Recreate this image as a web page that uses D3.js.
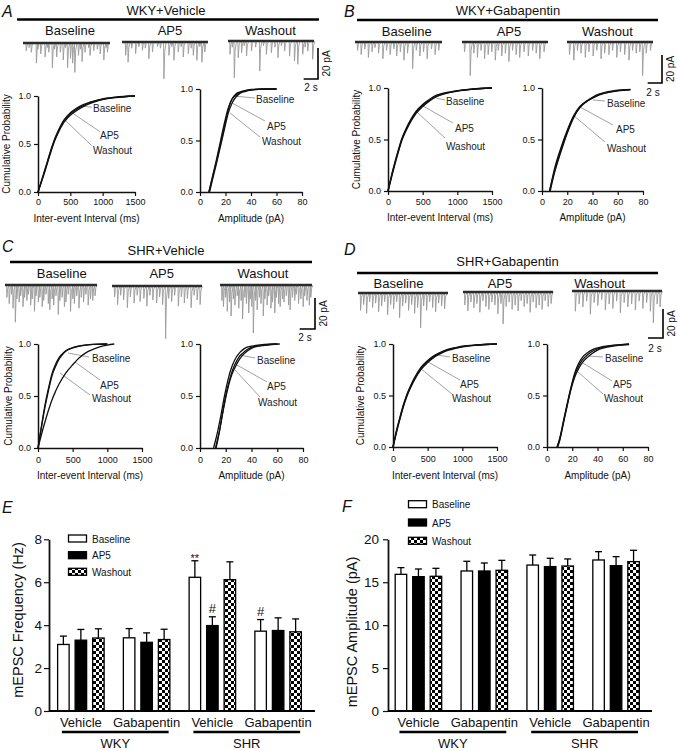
<!DOCTYPE html>
<html><head><meta charset="utf-8">
<script src="https://cdn.jsdelivr.net/npm/d3@7"></script>
<style>
body{margin:0;background:#fff;}
svg{display:block;font-family:"Liberation Sans",Arial,Helvetica,sans-serif;}
</style></head><body>
<svg id="fig" width="678" height="751"></svg>
<script>
// ================= DATA =================
const conditions = ["Baseline", "AP5", "Washout"];
const panelTitles = ["WKY+Vehicle", "WKY+Gabapentin", "SHR+Vehicle", "SHR+Gabapentin"];
const panelLetters = ["A", "B", "C", "D", "E", "F"];
const intervalTicks = [0, 500, 1000, 1500];
const amplitudeTicks = [0, 20, 40, 60, 80];
const probabilityTicks = [0, 0.5, 1];
const intervalAxisTitle = "Inter-event Interval (ms)";
const amplitudeAxisTitle = "Amplitude (pA)";
const cumulativeTitle = "Cumulative Probability";
const scaleBarCurrent = 20;   // pA
const scaleBarTime = 2;       // s
const traceDuration = 12;     // s

// mEPSC events in example traces: [time (s), amplitude (pA)]
const traceA_Baseline = [[0.4,5],[0.8,3],[1.1,6],[1.8,13],[2.0,4],[2.4,7],[3.0,9],[3.3,3],[3.5,6],[4.0,16],[4.3,4],[4.6,9],[5.1,6],[5.5,11],[5.8,3],[6.1,16],[6.5,10],[6.8,13],[7.1,19],[7.6,8],[7.9,4],[8.1,12],[8.5,6],[9.0,3],[9.2,8],[9.7,5],[10.2,4],[10.6,7],[11.1,11],[11.4,3],[11.6,6]];
const traceA_AP5 = [[0.46,8.6],[0.8,13],[1.3,4],[1.85,7.5],[2.3,3],[2.8,5.4],[3.2,4],[3.7,10.8],[4.2,6.5],[4.9,3],[5.3,4],[5.8,23.7],[6.5,8.6],[6.9,3],[7.2,11.8],[7.8,6.5],[8.2,3],[8.5,9.7],[9.2,7.5],[9.6,4],[9.9,8.6],[10.4,11.8],[10.8,3],[11.1,13],[11.5,6.5]];
const traceA_Washout = [[0.23,8.6],[0.55,4],[0.83,23.7],[1.38,10.8],[1.85,7.5],[2.2,3],[2.54,9.7],[3.23,6.5],[3.8,4],[4.38,19.4],[4.9,3],[5.31,8.6],[6.0,7.5],[6.5,4],[6.92,10.8],[7.4,3],[7.85,6.5],[8.54,9.7],[9.23,12.9],[9.69,15],[10.38,8.6],[10.7,4],[11.08,6.5],[11.77,11.8]];
const traceB_Baseline = [[0.3,6],[0.8,9],[1.3,5],[1.8,11],[2.3,7],[2.7,4],[3.2,8],[3.8,12],[4.3,6],[4.8,9],[5.3,5],[5.7,10],[6.2,7],[6.7,13],[7.2,8],[7.9,19],[8.4,6],[8.9,10],[9.4,7],[9.9,12],[10.5,5],[11.0,9],[11.5,6]];
const traceB_AP5 = [[0.3,7],[1.1,24],[1.6,8],[2.1,11],[2.6,6],[3.1,12],[3.6,9],[4.1,7],[4.6,13],[5.0,6],[5.5,10],[6.0,8],[6.5,14],[7.0,6],[7.5,9],[8.0,11],[8.6,7],[9.2,10],[9.8,6],[10.3,8],[10.8,12],[11.4,7]];
const traceB_Washout = [[0.3,9],[0.9,13],[1.4,6],[1.9,8],[2.5,11],[3.0,7],[3.6,10],[4.1,6],[4.7,12],[5.2,8],[5.8,9],[6.3,6],[6.9,11],[7.4,7],[8.0,9],[8.6,13],[9.1,6],[9.6,8],[10.1,7],[10.5,24],[11.0,8],[11.6,6]];
const traceC_Baseline = [[0.2,8],[0.5,12],[0.8,6],[1.0,15],[1.3,24],[1.5,9],[1.8,11],[2.0,7],[2.3,14],[2.5,8],[2.8,10],[3.0,6],[3.3,13],[3.5,9],[3.8,17],[4.0,7],[4.3,11],[4.5,8],[4.8,14],[5.0,10],[5.3,6],[5.6,12],[5.8,16],[6.1,9],[6.3,13],[6.6,7],[6.9,19],[7.1,10],[7.4,8],[7.7,14],[7.9,11],[8.2,6],[8.5,17],[8.8,9],[9.0,12],[9.3,7],[9.6,15],[9.9,8],[10.2,11],[10.5,6],[10.8,13],[11.1,9],[11.4,10],[11.7,7]];
const traceC_AP5 = [[0.3,7],[0.7,12],[1.1,6],[1.5,9],[2.0,14],[2.4,7],[2.9,11],[3.3,6],[3.7,10],[4.2,8],[4.6,13],[5.0,6],[5.4,9],[5.9,11],[6.3,7],[6.7,12],[7.1,34],[7.5,8],[7.9,10],[8.3,6],[8.8,13],[9.2,7],[9.6,11],[10.0,8],[10.5,14],[10.9,6],[11.3,9],[11.7,12]];
const traceC_Washout = [[0.2,10],[0.4,14],[0.7,8],[0.9,17],[1.2,11],[1.4,20],[1.7,9],[1.9,13],[2.2,7],[2.4,15],[2.7,10],[2.9,22],[3.2,8],[3.4,12],[3.7,18],[3.9,9],[4.1,14],[4.3,31],[4.6,10],[4.8,16],[5.1,8],[5.3,12],[5.6,20],[5.8,9],[6.1,13],[6.3,7],[6.6,15],[6.8,11],[7.1,18],[7.3,8],[7.6,12],[7.8,14],[8.1,9],[8.3,11],[8.6,7],[8.9,13],[9.1,16],[9.4,8],[9.7,10],[9.9,6],[10.2,12],[10.5,9],[10.8,14],[11.0,7],[11.3,10],[11.6,13],[11.8,8]];
const traceD_Baseline = [[0.3,12],[0.7,8],[1.1,14],[1.5,6],[1.9,10],[2.3,7],[2.7,13],[3.1,9],[3.5,6],[3.9,15],[4.3,8],[4.7,11],[5.1,6],[5.5,17],[5.9,9],[6.3,7],[6.7,12],[7.1,8],[7.5,14],[7.9,10],[8.3,24],[8.7,9],[9.1,12],[9.5,6],[9.9,10],[10.3,13],[10.7,7],[11.1,9],[11.5,11]];
const traceD_AP5 = [[0.2,9],[0.6,13],[1.0,7],[1.4,11],[1.8,8],[2.2,14],[2.6,6],[3.0,10],[3.4,12],[3.8,7],[4.2,9],[4.6,15],[5.0,8],[5.3,22],[5.7,10],[6.1,7],[6.5,12],[6.9,9],[7.3,13],[7.7,6],[8.1,10],[8.5,8],[8.9,14],[9.3,7],[9.7,11],[10.1,9],[10.5,12],[10.9,6],[11.3,10],[11.7,8]];
const traceD_Washout = [[0.4,14],[0.9,9],[1.4,11],[1.9,7],[2.4,16],[2.9,8],[3.4,10],[3.9,6],[4.4,13],[4.9,9],[5.4,12],[5.9,7],[6.4,15],[6.9,8],[7.4,11],[7.9,9],[8.4,13],[8.9,7],[9.4,12],[9.9,8],[10.4,14],[10.8,22],[11.3,9],[11.7,11]];

// cumulative distributions: [x, cumulative probability]
const A_interval_Baseline = [[0,0],[50,0.1],[100,0.21],[150,0.32],[200,0.43],[250,0.53],[300,0.61],[400,0.74],[500,0.815],[600,0.865],[700,0.9],[800,0.93],[900,0.95],[1000,0.967],[1200,0.986],[1500,1]];
const A_interval_AP5 = [[0,0],[50,0.1],[100,0.2],[150,0.31],[200,0.42],[250,0.52],[300,0.6],[400,0.725],[500,0.8],[600,0.85],[700,0.89],[800,0.92],[900,0.945],[1000,0.963],[1200,0.984],[1500,1]];
const A_interval_Washout = [[0,0],[50,0.11],[100,0.22],[150,0.33],[200,0.44],[250,0.54],[300,0.62],[400,0.75],[500,0.825],[600,0.875],[700,0.91],[800,0.935],[900,0.955],[1000,0.97],[1200,0.988],[1500,1]];
const A_amplitude_Baseline = [[7,0],[10,0.15],[13,0.3],[16,0.46],[19,0.63],[22,0.79],[25,0.9],[28,0.95],[31,0.97],[35,0.985],[40,0.995],[50,1],[60,1]];
const A_amplitude_AP5 = [[7.5,0],[10,0.13],[13,0.28],[16,0.44],[19,0.6],[22,0.76],[25,0.86],[28,0.92],[31,0.955],[35,0.975],[40,0.99],[50,0.998],[60,1]];
const A_amplitude_Washout = [[7,0],[10,0.16],[13,0.32],[16,0.49],[19,0.66],[22,0.81],[25,0.9],[28,0.94],[31,0.965],[35,0.98],[40,0.992],[50,1],[60,1]];
const B_interval_Baseline = [[0,0],[50,0.14],[100,0.27],[150,0.39],[200,0.5],[250,0.58],[300,0.65],[400,0.76],[500,0.83],[600,0.88],[700,0.92],[800,0.945],[900,0.96],[1000,0.972],[1200,0.988],[1500,1]];
const B_interval_AP5 = [[0,0],[50,0.13],[100,0.26],[150,0.38],[200,0.49],[250,0.57],[300,0.64],[400,0.75],[500,0.82],[600,0.875],[700,0.915],[800,0.94],[900,0.957],[1000,0.97],[1200,0.987],[1500,1]];
const B_interval_Washout = [[0,0],[50,0.15],[100,0.28],[150,0.4],[200,0.51],[250,0.59],[300,0.66],[400,0.77],[500,0.84],[600,0.89],[700,0.93],[800,0.95],[900,0.963],[1000,0.975],[1200,0.99],[1500,1]];
const B_amplitude_Baseline = [[6,0],[10,0.22],[15,0.42],[20,0.59],[25,0.73],[30,0.82],[35,0.87],[40,0.905],[45,0.935],[50,0.952],[55,0.965],[60,0.975],[70,0.985]];
const B_amplitude_AP5 = [[6.5,0],[10,0.18],[15,0.38],[20,0.56],[25,0.71],[30,0.81],[35,0.865],[40,0.9],[45,0.93],[50,0.95],[55,0.963],[60,0.973],[70,0.983]];
const B_amplitude_Washout = [[6,0],[10,0.2],[15,0.4],[20,0.575],[25,0.72],[30,0.815],[35,0.87],[40,0.91],[45,0.94],[50,0.958],[55,0.97],[60,0.978],[70,0.986]];
const C_interval_Baseline = [[0,0],[50,0.21],[100,0.41],[150,0.57],[200,0.71],[250,0.8],[300,0.865],[350,0.905],[400,0.935],[500,0.965],[600,0.982],[700,0.991],[800,0.996],[1000,1]];
const C_interval_AP5 = [[0,0],[50,0.13],[100,0.25],[150,0.36],[200,0.46],[250,0.54],[300,0.61],[400,0.72],[500,0.8],[600,0.87],[700,0.92],[800,0.95],[900,0.975],[1000,0.99],[1100,1]];
const C_interval_Washout = [[0,0],[50,0.2],[100,0.39],[150,0.55],[200,0.69],[250,0.78],[300,0.85],[350,0.895],[400,0.93],[500,0.962],[600,0.98],[700,0.99],[800,0.996],[1000,1]];
const C_amplitude_Baseline = [[10.5,0],[13,0.12],[16,0.3],[19,0.5],[22,0.67],[25,0.79],[28,0.87],[31,0.92],[35,0.96],[40,0.98],[50,0.995],[60,1]];
const C_amplitude_AP5 = [[12.5,0],[15,0.15],[18,0.37],[21,0.56],[24,0.7],[27,0.8],[30,0.87],[33,0.91],[37,0.95],[42,0.975],[50,0.99],[60,1]];
const C_amplitude_Washout = [[12,0],[15,0.16],[18,0.36],[21,0.54],[24,0.68],[27,0.77],[30,0.84],[33,0.89],[37,0.935],[42,0.97],[50,0.988],[62,1]];
const D_interval_Baseline = [[0,0],[50,0.15],[100,0.28],[150,0.4],[200,0.5],[250,0.58],[300,0.65],[400,0.76],[500,0.83],[600,0.885],[700,0.92],[800,0.945],[900,0.962],[1000,0.975],[1200,0.99],[1500,1]];
const D_interval_AP5 = [[0,0],[50,0.14],[100,0.27],[150,0.39],[200,0.49],[250,0.57],[300,0.64],[400,0.75],[500,0.82],[600,0.875],[700,0.912],[800,0.94],[900,0.958],[1000,0.972],[1200,0.988],[1500,1]];
const D_interval_Washout = [[0,0],[50,0.16],[100,0.29],[150,0.41],[200,0.51],[250,0.59],[300,0.66],[400,0.77],[500,0.84],[600,0.89],[700,0.925],[800,0.95],[900,0.965],[1000,0.978],[1200,0.991],[1500,1]];
const D_amplitude_Baseline = [[8,0],[10,0.08],[13,0.25],[16,0.42],[19,0.58],[22,0.72],[25,0.81],[28,0.87],[32,0.915],[36,0.945],[40,0.962],[50,0.985],[60,0.995],[65,1]];
const D_amplitude_AP5 = [[8.5,0],[10,0.06],[13,0.23],[16,0.4],[19,0.56],[22,0.68],[25,0.76],[28,0.82],[32,0.87],[36,0.91],[40,0.94],[50,0.975],[60,0.99],[65,0.995]];
const D_amplitude_Washout = [[8,0],[10,0.07],[13,0.24],[16,0.41],[19,0.57],[22,0.7],[25,0.785],[28,0.845],[32,0.895],[36,0.93],[40,0.952],[50,0.98],[60,0.993],[65,0.998]];

// bar charts (E, F)
const groupLabels = ["Vehicle", "Gabapentin", "Vehicle", "Gabapentin"];
const strainLabels = ["WKY", "SHR"];
const freqTicks = [0, 2, 4, 6, 8];
const ampBarTicks = [0, 5, 10, 15, 20];
const freqAxisTitle = "mEPSC Frequency (Hz)";
const ampBarAxisTitle = "mEPSC Amplitude (pA)";
const freqBaseline = [3.1, 3.41, 6.23, 3.72];
const freqBaselineSEM = [0.39, 0.43, 0.77, 0.54];
const freqAP5 = [3.3, 3.2, 3.98, 3.75];
const freqAP5SEM = [0.5, 0.44, 0.41, 0.59];
const freqWashout = [3.4, 3.33, 6.12, 3.69];
const freqWashoutSEM = [0.43, 0.48, 0.83, 0.6];
const ampBaseline = [15.92, 16.31, 17.0, 17.59];
const ampBaselineSEM = [0.78, 1.13, 1.17, 0.97];
const ampAP5 = [15.65, 16.31, 16.82, 16.93];
const ampAP5SEM = [0.89, 0.93, 0.97, 1.05];
const ampWashout = [15.69, 16.39, 16.89, 17.4];
const ampWashoutSEM = [0.93, 1.16, 0.82, 1.32];
const freqMarkGroups = [2, 2, 3];
const freqMarkSeries = [0, 1, 0];
const freqMarkText = ["**", "#", "#"];

// ================= DRAWING =================
const svg = d3.select("#fig");
const ink = "#111";

const defs = svg.append("defs");
const pat = defs.append("pattern").attr("id", "checker").attr("patternUnits", "userSpaceOnUse")
  .attr("width", 6).attr("height", 6);
pat.append("rect").attr("width", 6).attr("height", 6).attr("fill", "#fff");
pat.append("rect").attr("width", 3).attr("height", 3).attr("fill", "#000");
pat.append("rect").attr("x", 3).attr("y", 3).attr("width", 3).attr("height", 3).attr("fill", "#000");

function letter(txt, x, y) {
  svg.append("text").attr("x", x).attr("y", y).attr("font-size", 16).attr("font-style", "italic")
    .attr("fill", ink).text(txt);
}

const traceSets = [
  [traceA_Baseline, traceA_AP5, traceA_Washout],
  [traceB_Baseline, traceB_AP5, traceB_Washout],
  [traceC_Baseline, traceC_AP5, traceC_Washout],
  [traceD_Baseline, traceD_AP5, traceD_Washout]
];
const cdfSets = [
  [[A_interval_Baseline, A_interval_AP5, A_interval_Washout], [A_amplitude_Baseline, A_amplitude_AP5, A_amplitude_Washout]],
  [[B_interval_Baseline, B_interval_AP5, B_interval_Washout], [B_amplitude_Baseline, B_amplitude_AP5, B_amplitude_Washout]],
  [[C_interval_Baseline, C_interval_AP5, C_interval_Washout], [C_amplitude_Baseline, C_amplitude_AP5, C_amplitude_Washout]],
  [[D_interval_Baseline, D_interval_AP5, D_interval_Washout], [D_amplitude_Baseline, D_amplitude_AP5, D_amplitude_Washout]]
];

// layout for A-D
const layouts = [
  { letter: [2, 17], headX: 166, headY: 14.5, rule: [17, 319, 19.5], subX: [70, 170, 270.5], subY: 35,
    traces: [[23, 110, 43], [122, 208, 42], [228, 314, 41]], bar: [318, 48, 79], pA: [329.5, 63.5], s: [311, 91],
    left: { x0: 38, x1: 135, y0: 96, y1: 192, tx: 9.5,
      lab: [[43.7,10,53.7,11.3,55,15.5],[34.7,17.3,62,35.7,62,42.5],[27,24,53.7,49.7,55,57.5]] },
    right: { x0: 200, x1: 302, y0: 89, y1: 192,
      lab: [[33,7,55,9,56,13.5],[32,14,65,32,67,40.5],[30,24,60,48,62,55.5]] },
    tickPad: 3, axTitleY: 221.5 },
  { letter: [344, 17], headX: 508, headY: 14.5, rule: [357, 658, 20], subX: [406.7, 509, 607.5], subY: 35.5,
    traces: [[355, 442, 42], [462, 548, 42], [567, 653, 42]], bar: [662, 55, 83], pA: [673.5, 69], s: [653, 95.5],
    left: { x0: 388, x1: 492, y0: 88, y1: 191, tx: 359.5,
      lab: [[48.7,10.3,57,12,58,16.5],[35,18,65,35,67,43.5],[29,24,57,50,58,61.5]] },
    right: { x0: 542, x1: 643, y0: 88, y1: 191,
      lab: [[51,12,63,13,65,18.5],[38,19,71,37,74,44.5],[31,27,63,54,65,63.5]] },
    tickPad: 3.5, axTitleY: 220.5 },
  { letter: [2, 252], headX: 166, headY: 254.5, rule: [10, 312, 262], subX: [61.7, 161.7, 263], subY: 277.5,
    traces: [[5, 97, 285], [112, 202, 286], [220, 312, 285]], bar: [315, 298, 329], pA: [327, 313.5], s: [305, 341],
    left: { x0: 38, x1: 142, y0: 344, y1: 448, tx: 11.5,
      lab: [[30,9,51,13,54,17.5],[37,18,62,36,62,44.5],[22,29,52,51,54,57.5]] },
    right: { x0: 200, x1: 303, y0: 344, y1: 448,
      lab: [[40,11,55,14,57,19.5],[37,21,67,38,67,45.5],[35,26,60,53,58,61.5]] },
    tickPad: 5, axTitleY: 479 },
  { letter: [344, 255], headX: 507.5, headY: 266, rule: [357, 658, 273], subX: [398.5, 500, 599.7], subY: 287.5,
    traces: [[358, 448, 293], [463, 553, 292], [572, 662, 291]], bar: [663, 309, 338], pA: [674.5, 323.5], s: [655, 351.5],
    left: { x0: 393, x1: 497, y0: 344, y1: 447, tx: 364,
      lab: [[44,11,57,13,59,17.5],[35,18,67,36,67,43.5],[27,24,59,50,59,57.5]] },
    right: { x0: 547, x1: 648, y0: 344, y1: 447,
      lab: [[41,12,56,13,58,17.5],[36,19,65,37,66,43.5],[31,28,56,50,57,57.5]] },
    tickPad: 5, axTitleY: 478.5 }
];

function styleAxis(g, fs) {
  g.select(".domain").attr("stroke", ink).attr("stroke-width", 1.5);
  g.selectAll(".tick line").attr("stroke", ink).attr("stroke-width", 1.2);
  g.selectAll(".tick text").attr("font-size", fs).attr("fill", ink)
    .attr("font-family", '"Liberation Sans", Arial, Helvetica, sans-serif');
}

function drawCDF(cfg, curves, xMax, xTicks, xTitle, showYTitle, tickPad, titleY) {
  const g = svg.append("g");
  const x = d3.scaleLinear().domain([0, xMax]).range([cfg.x0, cfg.x1]);
  const y = d3.scaleLinear().domain([0, 1]).range([cfg.y1, cfg.y0]);
  const line = d3.line().x(d => x(d[0])).y(d => y(d[1])).curve(d3.curveMonotoneX);
  conditions.forEach((c, i) => {
    const L = cfg.lab[i];
    g.append("line").attr("x1", cfg.x0 + L[0]).attr("y1", cfg.y0 + L[1])
      .attr("x2", cfg.x0 + L[2]).attr("y2", cfg.y0 + L[3])
      .attr("stroke", "#8a8a8a").attr("stroke-width", 0.8);
    g.append("text").attr("x", cfg.x0 + L[4]).attr("y", cfg.y0 + L[5])
      .attr("font-size", 10).attr("fill", "#222").text(c);
  });
  curves.forEach(cv => {
    g.append("path").datum(cv).attr("d", line).attr("fill", "none")
      .attr("stroke", ink).attr("stroke-width", 1.3);
  });
  const ax = g.append("g").attr("transform", `translate(0,${cfg.y1})`)
    .call(d3.axisBottom(x).tickValues(xTicks).tickFormat(d3.format("d")).tickSize(4).tickSizeOuter(0).tickPadding(tickPad));
  styleAxis(ax, 9);
  const ay = g.append("g").attr("transform", `translate(${cfg.x0},0)`)
    .call(d3.axisLeft(y).tickValues(probabilityTicks).tickFormat(d3.format(".1f")).tickSize(4).tickSizeOuter(0).tickPadding(3));
  styleAxis(ay, 9);
  g.append("text").attr("x", (cfg.x0 + cfg.x1) / 2).attr("y", titleY).attr("text-anchor", "middle")
    .attr("font-size", 10).attr("fill", ink).text(xTitle);
  if (showYTitle) {
    g.append("text").attr("transform", `translate(${cfg.tx},${(cfg.y0 + cfg.y1) / 2}) rotate(-90)`)
      .attr("text-anchor", "middle").attr("font-size", 10).attr("fill", ink).text(cumulativeTitle);
  }
}

layouts.forEach((L, p) => {
  letter(panelLetters[p], L.letter[0], L.letter[1]);
  svg.append("text").attr("x", L.headX).attr("y", L.headY).attr("text-anchor", "middle")
    .attr("font-size", 13).attr("fill", ink).text(panelTitles[p]);
  svg.append("line").attr("x1", L.rule[0]).attr("x2", L.rule[1]).attr("y1", L.rule[2]).attr("y2", L.rule[2])
    .attr("stroke", "#000").attr("stroke-width", 2.6);
  const amp = d3.scaleLinear().domain([0, scaleBarCurrent]).range([0, L.bar[2] - L.bar[1]]);
  conditions.forEach((c, i) => {
    svg.append("text").attr("x", L.subX[i]).attr("y", L.subY).attr("text-anchor", "middle")
      .attr("font-size", 13).attr("fill", ink).text(c);
    const T = L.traces[i];
    const xt = d3.scaleLinear().domain([0, traceDuration]).range([T[0], T[1]]);
    const tg = svg.append("g");
    tg.selectAll("path").data(traceSets[p][i]).join("path")
      .attr("d", d => {
        const x0 = xt(d[0]), b = T[2], a = amp(d[1]);
        return `M${x0},${b}L${x0 + 0.35},${b + a}L${x0 + 1.2},${b + a * 0.25}L${x0 + 2.6},${b}`;
      })
      .attr("fill", "none").attr("stroke", "#9a9a9a").attr("stroke-width", 0.9);
    tg.append("line").attr("x1", T[0]).attr("x2", T[1]).attr("y1", T[2]).attr("y2", T[2])
      .attr("stroke", "#2b2b2b").attr("stroke-width", 2.4);
    if (i === 2) {
      const hx = xt(scaleBarTime) - xt(0);
      svg.append("path").attr("d", `M${L.bar[0]},${L.bar[1]}V${L.bar[2]}H${L.bar[0] - hx}`)
        .attr("fill", "none").attr("stroke", "#000").attr("stroke-width", 1.6);
    }
  });
  svg.append("text").attr("transform", `translate(${L.pA[0]},${L.pA[1]}) rotate(-90)`)
    .attr("text-anchor", "middle").attr("font-size", 10).attr("fill", ink).text(scaleBarCurrent + " pA");
  svg.append("text").attr("x", L.s[0]).attr("y", L.s[1]).attr("text-anchor", "middle")
    .attr("font-size", 10).attr("fill", ink).text(scaleBarTime + " s");

  drawCDF(L.left, cdfSets[p][0], 1500, intervalTicks, intervalAxisTitle, true, L.tickPad, L.axTitleY);
  drawCDF(L.right, cdfSets[p][1], 80, amplitudeTicks, amplitudeAxisTitle, false, L.tickPad, L.axTitleY);
});

// ---------- bar charts ----------
const barFills = ["#fff", "#000", "url(#checker)"];
function drawBars(cfg) {
  const g = svg.append("g");
  letter(cfg.letter, cfg.lx, cfg.ly);
  const y = d3.scaleLinear().domain([0, cfg.max]).range([711, 539.3]);
  const xb = d3.scaleBand().domain(d3.range(groupLabels.length)).range(cfg.band);
  const step = 17.5, bw = 11.5;
  cfg.series.forEach((vals, s) => {
    vals.forEach((v, gi) => {
      const cx = xb(gi) + xb.bandwidth() / 2 + (s - 1) * step;
      const top = y(v), et = y(v + cfg.sems[s][gi]);
      g.append("line").attr("x1", cx).attr("x2", cx).attr("y1", top).attr("y2", et)
        .attr("stroke", "#000").attr("stroke-width", 1.3);
      g.append("line").attr("x1", cx - 3.5).attr("x2", cx + 3.5).attr("y1", et).attr("y2", et)
        .attr("stroke", "#000").attr("stroke-width", 1.3);
      g.append("rect").attr("x", cx - bw / 2).attr("y", top).attr("width", bw).attr("height", y(0) - top)
        .attr("fill", barFills[s]).attr("stroke", "#000").attr("stroke-width", 1.3);
    });
  });
  if (cfg.marks) {
    cfg.marks.groups.forEach((gi, k) => {
      const s = cfg.marks.series[k];
      const cx = xb(gi) + xb.bandwidth() / 2 + (s - 1) * step;
      const et = y(cfg.series[s][gi] + cfg.sems[s][gi]);
      const isStar = cfg.marks.text[k] === "**";
      g.append("text").attr("x", cx).attr("y", isStar ? et + 1 : et - 4).attr("text-anchor", "middle")
        .attr("font-size", isStar ? 11 : 13).attr("fill", ink).text(cfg.marks.text[k]);
    });
  }
  const ay = g.append("g").attr("transform", `translate(${cfg.axisX},0)`)
    .call(d3.axisLeft(y).tickValues(cfg.ticks).tickSize(5).tickSizeOuter(0).tickPadding(cfg.tickPad));
  styleAxis(ay, 13.5);
  ay.select(".domain").attr("stroke-width", 1.8);
  g.append("line").attr("x1", cfg.axisX).attr("x2", cfg.axisEnd).attr("y1", 711).attr("y2", 711)
    .attr("stroke", "#000").attr("stroke-width", 1.8);
  groupLabels.forEach((lab, gi) => {
    g.append("text").attr("x", xb(gi) + xb.bandwidth() / 2).attr("y", 726.5).attr("text-anchor", "middle")
      .attr("font-size", 13).attr("fill", ink).text(lab);
  });
  strainLabels.forEach((lab, k) => {
    const c0 = xb(2 * k) + xb.bandwidth() / 2, c1 = xb(2 * k + 1) + xb.bandwidth() / 2;
    g.append("line").attr("x1", c0 - 19).attr("x2", c1 + 22).attr("y1", 732).attr("y2", 732)
      .attr("stroke", "#000").attr("stroke-width", 2.6);
    g.append("text").attr("x", (c0 + c1) / 2 + 1.5).attr("y", 747.5).attr("text-anchor", "middle")
      .attr("font-size", 13).attr("fill", ink).text(lab);
  });
  g.append("text").attr("transform", `translate(${cfg.titleX},${cfg.titleY}) rotate(-90)`)
    .attr("text-anchor", "middle").attr("font-size", 14.5).attr("fill", ink).text(cfg.title);
  conditions.forEach((c, s) => {
    const by = cfg.legY[s];
    g.append("rect").attr("x", cfg.legX).attr("y", by).attr("width", 18).attr("height", 7)
      .attr("fill", barFills[s]).attr("stroke", "#000").attr("stroke-width", 1.3);
    g.append("text").attr("x", cfg.legX + 23.5).attr("y", by + 7.5).attr("font-size", 10)
      .attr("fill", ink).text(c);
  });
}

drawBars({ letter: panelLetters[4], lx: 2, ly: 513, max: 8, ticks: freqTicks, band: [48, 311], axisX: 49, axisEnd: 315,
  tickPad: 2, series: [freqBaseline, freqAP5, freqWashout], sems: [freqBaselineSEM, freqAP5SEM, freqWashoutSEM],
  marks: { groups: freqMarkGroups, series: freqMarkSeries, text: freqMarkText },
  title: freqAxisTitle, titleX: 23, titleY: 620, legX: 68.5, legY: [535, 551.7, 568.3] });
drawBars({ letter: panelLetters[5], lx: 342, ly: 512, max: 20, ticks: ampBarTicks, band: [385.5, 649], axisX: 388, axisEnd: 652,
  tickPad: 4, series: [ampBaseline, ampAP5, ampWashout], sems: [ampBaselineSEM, ampAP5SEM, ampWashoutSEM],
  marks: null, title: ampBarAxisTitle, titleX: 357, titleY: 632, legX: 408.5, legY: [500.7, 519, 537.3] });
</script></body></html>
